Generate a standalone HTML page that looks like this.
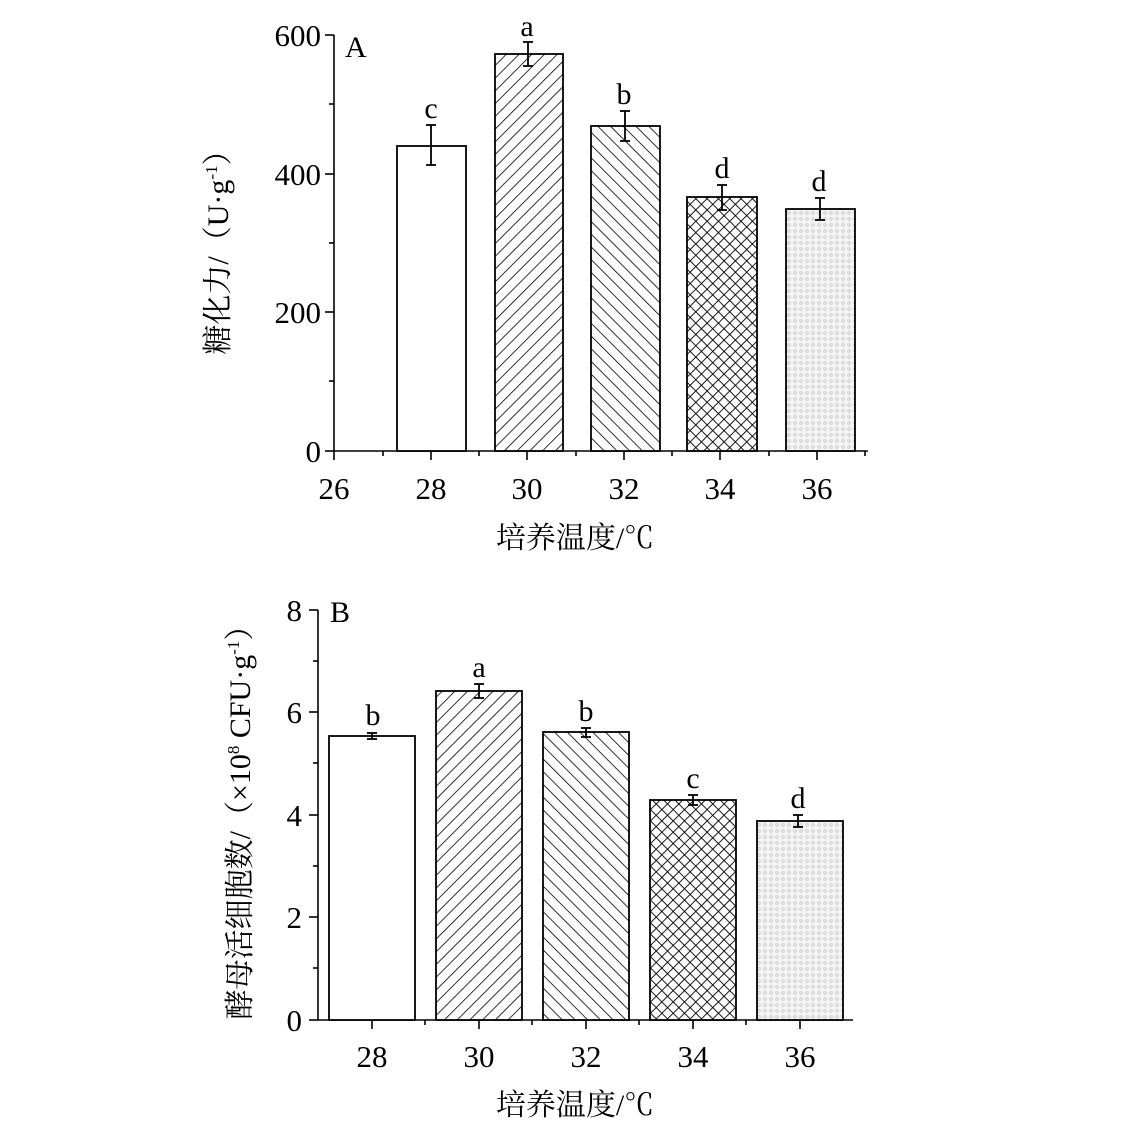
<!DOCTYPE html>
<html><head><meta charset="utf-8"><style>
html,body{margin:0;padding:0;background:#fff;}
svg{display:block;}
text{font-family:"Liberation Serif","Noto Serif CJK SC",serif;fill:#000;}
</style></head><body>
<svg width="1122" height="1143" viewBox="0 0 1122 1143" xmlns="http://www.w3.org/2000/svg">
<defs>
<pattern id="p30" patternUnits="userSpaceOnUse" width="9" height="9" patternTransform="rotate(45)">
<rect width="9" height="9" fill="#fff"/><line x1="0" y1="0" x2="0" y2="9" stroke="#000" stroke-width="1.6"/></pattern>
<pattern id="p32" patternUnits="userSpaceOnUse" width="9" height="9" patternTransform="rotate(-45)">
<rect width="9" height="9" fill="#fff"/><line x1="0" y1="0" x2="0" y2="9" stroke="#000" stroke-width="1.6"/></pattern>
<pattern id="p34" patternUnits="userSpaceOnUse" width="8" height="8" patternTransform="rotate(45)">
<rect width="8" height="8" fill="#fff"/><line x1="0" y1="0" x2="0" y2="8" stroke="#000" stroke-width="1.8"/><line x1="0" y1="0" x2="8" y2="0" stroke="#000" stroke-width="1.8"/></pattern>
<pattern id="p36" patternUnits="userSpaceOnUse" width="6" height="6">
<rect width="6" height="6" fill="#f4f4f4"/><circle cx="3" cy="3" r="1.3" fill="none" stroke="#c8c8c8" stroke-width="0.8"/></pattern>
</defs>

<!-- Chart A -->
<g stroke="#000" stroke-width="1.6" fill="none">
<line x1="334" y1="35" x2="334" y2="451"/>
<line x1="334" y1="451" x2="868" y2="451"/>
<line x1="325" y1="35" x2="334" y2="35"/><line x1="325" y1="174" x2="334" y2="174"/>
<line x1="325" y1="312" x2="334" y2="312"/><line x1="325" y1="451" x2="334" y2="451"/>
<line x1="329" y1="104" x2="334" y2="104"/><line x1="329" y1="243" x2="334" y2="243"/><line x1="329" y1="381" x2="334" y2="381"/>
<line x1="334" y1="451" x2="334" y2="460"/><line x1="431" y1="451" x2="431" y2="460"/><line x1="527" y1="451" x2="527" y2="460"/>
<line x1="624" y1="451" x2="624" y2="460"/><line x1="720" y1="451" x2="720" y2="460"/><line x1="817" y1="451" x2="817" y2="460"/>
<line x1="383" y1="451" x2="383" y2="456"/><line x1="479" y1="451" x2="479" y2="456"/><line x1="576" y1="451" x2="576" y2="456"/>
<line x1="672" y1="451" x2="672" y2="456"/><line x1="769" y1="451" x2="769" y2="456"/><line x1="865" y1="451" x2="865" y2="456"/>
</g>
<g stroke="#000" stroke-width="1.8">
<rect x="397" y="146" width="69" height="305" fill="#fff"/>
<rect x="495" y="54" width="68" height="397" fill="url(#p30)"/>
<rect x="591" y="126" width="69" height="325" fill="url(#p32)"/>
<rect x="687" y="197" width="70" height="254" fill="url(#p34)"/>
<rect x="786" y="209" width="69" height="242" fill="url(#p36)"/>
</g>
<g stroke="#000" stroke-width="1.8">
<line x1="431" y1="125" x2="431" y2="165"/><line x1="426" y1="125" x2="436" y2="125"/><line x1="426" y1="165" x2="436" y2="165"/>
<line x1="528" y1="42" x2="528" y2="66"/><line x1="523" y1="42" x2="533" y2="42"/><line x1="523" y1="66" x2="533" y2="66"/>
<line x1="625" y1="111" x2="625" y2="141"/><line x1="620" y1="111" x2="630" y2="111"/><line x1="620" y1="141" x2="630" y2="141"/>
<line x1="722" y1="185" x2="722" y2="210"/><line x1="717" y1="185" x2="727" y2="185"/><line x1="717" y1="210" x2="727" y2="210"/>
<line x1="820" y1="198" x2="820" y2="220"/><line x1="815" y1="198" x2="825" y2="198"/><line x1="815" y1="220" x2="825" y2="220"/>
</g>
<g font-size="30" text-anchor="middle">
<text x="431" y="118">c</text><text x="527" y="36">a</text><text x="624" y="104">b</text>
<text x="722" y="178">d</text><text x="819" y="191">d</text>
</g>
<text x="345" y="57" font-size="30">A</text>
<g font-size="31" text-anchor="end">
<text x="321" y="46">600</text><text x="321" y="185">400</text><text x="321" y="323">200</text><text x="321" y="462">0</text>
</g>
<g font-size="31" text-anchor="middle">
<text x="334" y="499">26</text><text x="431" y="499">28</text><text x="527" y="499">30</text>
<text x="624" y="499">32</text><text x="720" y="499">34</text><text x="817" y="499">36</text>
</g>
<text x="575" y="548" font-size="30" text-anchor="middle">培养温度/℃</text>
<text transform="translate(228,245) rotate(-90)" font-size="30" text-anchor="middle">糖化力/（U·g<tspan font-size="17" dy="-11">-1</tspan><tspan dy="11">）</tspan></text>

<!-- Chart B -->
<g stroke="#000" stroke-width="1.6" fill="none">
<line x1="318" y1="610" x2="318" y2="1020"/>
<line x1="318" y1="1020" x2="853" y2="1020"/>
<line x1="309" y1="610" x2="318" y2="610"/><line x1="309" y1="712" x2="318" y2="712"/>
<line x1="309" y1="815" x2="318" y2="815"/><line x1="309" y1="917" x2="318" y2="917"/><line x1="309" y1="1020" x2="318" y2="1020"/>
<line x1="313" y1="661" x2="318" y2="661"/><line x1="313" y1="763" x2="318" y2="763"/><line x1="313" y1="866" x2="318" y2="866"/><line x1="313" y1="968" x2="318" y2="968"/>
<line x1="372" y1="1020" x2="372" y2="1029"/><line x1="479" y1="1020" x2="479" y2="1029"/><line x1="586" y1="1020" x2="586" y2="1029"/>
<line x1="693" y1="1020" x2="693" y2="1029"/><line x1="800" y1="1020" x2="800" y2="1029"/>
<line x1="425" y1="1020" x2="425" y2="1025"/><line x1="532" y1="1020" x2="532" y2="1025"/>
<line x1="639" y1="1020" x2="639" y2="1025"/><line x1="746" y1="1020" x2="746" y2="1025"/>
</g>
<g stroke="#000" stroke-width="1.8">
<rect x="329" y="736" width="86" height="284" fill="#fff"/>
<rect x="436" y="691" width="86" height="329" fill="url(#p30)"/>
<rect x="543" y="732" width="86" height="288" fill="url(#p32)"/>
<rect x="650" y="800" width="86" height="220" fill="url(#p34)"/>
<rect x="757" y="821" width="86" height="199" fill="url(#p36)"/>
</g>
<g stroke="#000" stroke-width="1.8">
<line x1="372" y1="733" x2="372" y2="739"/><line x1="367" y1="733" x2="377" y2="733"/><line x1="367" y1="739" x2="377" y2="739"/>
<line x1="479" y1="684" x2="479" y2="698"/><line x1="474" y1="684" x2="484" y2="684"/><line x1="474" y1="698" x2="484" y2="698"/>
<line x1="586" y1="728" x2="586" y2="737"/><line x1="581" y1="728" x2="591" y2="728"/><line x1="581" y1="737" x2="591" y2="737"/>
<line x1="693" y1="795" x2="693" y2="805"/><line x1="688" y1="795" x2="698" y2="795"/><line x1="688" y1="805" x2="698" y2="805"/>
<line x1="798" y1="815" x2="798" y2="827"/><line x1="793" y1="815" x2="803" y2="815"/><line x1="793" y1="827" x2="803" y2="827"/>
</g>
<g font-size="30" text-anchor="middle">
<text x="373" y="725">b</text><text x="479" y="677">a</text><text x="586" y="721">b</text>
<text x="693" y="788">c</text><text x="798" y="808">d</text>
</g>
<text x="330" y="622" font-size="30">B</text>
<g font-size="31" text-anchor="end">
<text x="302" y="621">8</text><text x="302" y="723">6</text><text x="302" y="826">4</text><text x="302" y="928">2</text><text x="302" y="1031">0</text>
</g>
<g font-size="31" text-anchor="middle">
<text x="372" y="1067">28</text><text x="479" y="1067">30</text><text x="586" y="1067">32</text>
<text x="693" y="1067">34</text><text x="800" y="1067">36</text>
</g>
<text x="575" y="1115" font-size="30" text-anchor="middle">培养温度/℃</text>
<text transform="translate(250,815) rotate(-90)" font-size="30" text-anchor="middle">酵母活细胞数/（×10<tspan font-size="17" dy="-11">8</tspan><tspan dy="11"> CFU·g</tspan><tspan font-size="17" dy="-11">-1</tspan><tspan dy="11">）</tspan></text>
</svg>
</body></html>
